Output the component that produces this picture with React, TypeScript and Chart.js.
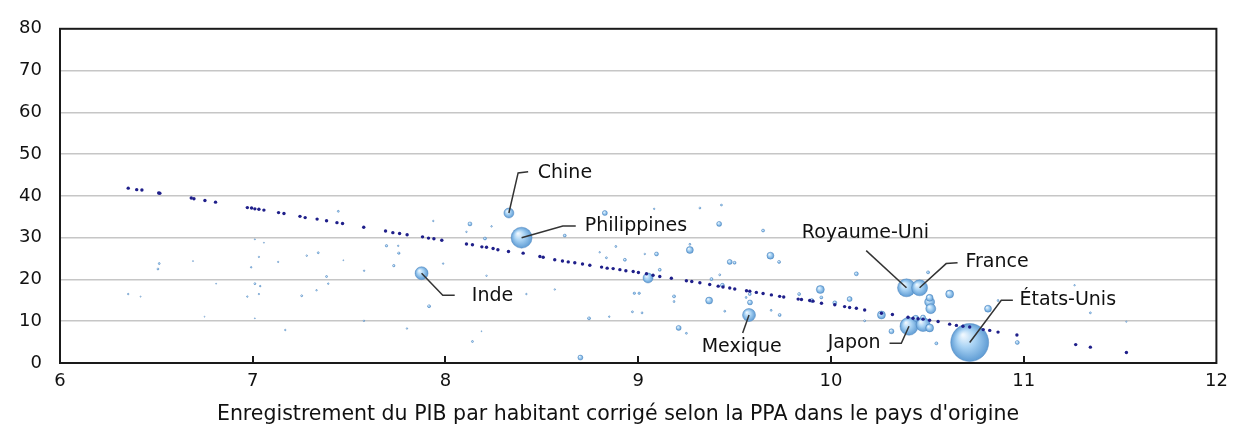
import React, { useEffect, useRef } from 'react';
import { Chart, registerables } from 'chart.js';

Chart.register(...registerables);

// Fitted values (dark dotted line)
const fitX = [
  6.354, 6.398, 6.425, 6.512, 6.518, 6.681, 6.695, 6.752, 6.807, 6.972, 6.994, 7.011, 7.032, 7.058,
  7.134, 7.162, 7.245, 7.272, 7.334, 7.383, 7.437, 7.466, 7.576, 7.689, 7.727, 7.762, 7.801, 7.881,
  7.912, 7.94, 7.981, 8.109, 8.14, 8.189, 8.213, 8.247, 8.272, 8.327, 8.403, 8.49, 8.507, 8.567,
  8.607, 8.637, 8.671, 8.711, 8.749, 8.81, 8.839, 8.87, 8.905, 8.936, 8.974, 9.001, 9.043, 9.077,
  9.112, 9.172, 9.25, 9.278, 9.32, 9.371, 9.415, 9.44, 9.475, 9.501, 9.562, 9.579, 9.613, 9.648,
  9.691, 9.734, 9.755, 9.83, 9.847, 9.89, 9.907, 9.951, 10.02, 10.071, 10.097, 10.132, 10.175,
  10.262, 10.319, 10.4, 10.426, 10.452, 10.478, 10.512, 10.556, 10.616, 10.651, 10.685, 10.72,
  10.79, 10.824, 10.867, 10.965, 11.27, 11.346, 11.533,
];
const fitY = [
  41.85, 41.5, 41.4, 40.7, 40.65, 39.5, 39.3, 38.9, 38.5, 37.2, 37.1, 36.9, 36.8, 36.6,
  36.0, 35.8, 35.1, 34.8, 34.45, 34.06, 33.6, 33.4, 32.5, 31.6, 31.2, 31.0, 30.7, 30.2,
  29.9, 29.75, 29.4, 28.5, 28.3, 27.8, 27.7, 27.4, 27.1, 26.7, 26.3, 25.5, 25.3, 24.7,
  24.4, 24.2, 24.0, 23.7, 23.4, 22.96, 22.7, 22.6, 22.35, 22.1, 21.9, 21.65, 21.35, 21.0,
  20.7, 20.3, 19.7, 19.5, 19.2, 18.8, 18.4, 18.2, 17.95, 17.7, 17.3, 17.2, 16.9, 16.65,
  16.3, 15.95, 15.8, 15.3, 15.2, 14.95, 14.8, 14.3, 13.95, 13.5, 13.3, 13.1, 12.7,
  11.9, 11.6, 10.95, 10.7, 10.6, 10.5, 10.25, 9.95, 9.3, 9.0, 8.8, 8.6,
  8.0, 7.8, 7.4, 6.7, 4.4, 3.8, 2.5,
];

// Countries (bubbles)
const bubX = [
  8.329, 8.395, 7.876, 9.575, 10.392, 10.46, 10.405, 10.478, 10.72,
  10.512, 10.518, 10.512, 10.512, 10.44, 10.478, 10.616, 10.262, 9.945, 9.686, 9.731, 9.648,
  10.132, 10.097, 10.02, 9.95, 9.9, 9.835, 9.58, 9.734, 9.69, 10.314, 10.547, 10.504, 10.175,
  10.815, 10.867, 10.967, 11.264, 11.346, 11.533,
  8.827, 8.619, 9.42, 9.432, 9.32, 9.083, 9.268, 9.268, 9.095, 8.884, 8.931, 9.475, 9.5, 8.835,
  9.051, 9.112, 8.98, 9.005, 9.186, 9.186, 9.368, 9.38, 9.437, 9.449, 9.579, 9.56, 9.21, 9.25,
  8.97, 9.02, 8.745, 8.85, 8.7, 8.567, 8.8, 9.034, 8.42, 9.423,
  7.444, 8.127, 8.109, 7.937, 8.239, 8.205, 7.34, 7.28, 7.694, 7.755, 7.758, 7.732, 7.578, 7.47,
  7.383, 7.392, 7.331, 7.254, 7.988, 7.915, 7.577, 7.8, 8.14, 8.213, 8.187,
  6.515, 6.508, 6.354, 6.418, 6.69, 6.75, 6.81, 7.011, 7.058, 7.032, 6.992, 7.132, 7.011, 7.039,
  7.032, 6.972, 7.011, 7.169,
];
const bubY = [
  35.9, 30.0, 21.5, 11.5, 18.0, 18.0, 8.8, 9.2, 4.9,
  14.6, 13.0, 15.6, 8.4, 10.7, 10.9, 16.5, 11.5, 17.6, 25.7, 24.2, 31.7,
  21.35, 15.3, 14.4, 15.7, 14.95, 16.5, 14.5, 11.5, 12.6, 7.6, 4.7, 21.7, 10.1,
  13.0, 14.95, 4.9, 18.6, 12.0, 9.9,
  35.9, 30.5, 33.3, 37.8, 37.1, 36.9, 27.05, 28.4, 26.1, 27.9, 24.7, 24.2, 24.0, 25.2,
  20.35, 22.3, 16.7, 16.7, 15.95, 14.7, 14.95, 20.1, 18.6, 12.4, 16.5, 15.7, 8.4, 7.1,
  12.25, 12.0, 10.7, 11.1, 1.3, 17.6, 26.5, 26.1, 16.5, 21.1,
  36.3, 33.3, 31.4, 34.0, 32.7, 29.8, 26.4, 25.7, 28.05, 28.05, 26.3, 23.3, 22.1, 24.6,
  20.7, 19.0, 17.4, 16.1, 23.8, 13.6, 10.1, 8.25, 5.15, 20.9, 7.6,
  23.8, 22.5, 16.5, 15.9, 24.4, 11.1, 19.0, 29.6, 28.8, 25.4, 22.9, 24.2, 19.0, 18.4,
  16.5, 15.9, 10.7, 7.9,
];
const bubSize = [
  5, 10.5, 6.5, 6.5, 9, 8, 9, 7, 19,
  5, 5, 3.5, 4, 3, 2.5, 4, 4, 4, 3.5, 1.5, 1.5,
  2, 2.5, 2, 1.5, 2, 1.5, 2.5, 1.5, 1, 2.5, 1.5, 1.5, 1,
  3.5, 1, 2, 0.8, 1, 0.7,
  2.5, 1.5, 2.5, 1, 1, 0.8, 3.5, 1, 2, 1, 1.5, 2.5, 1.5, 1,
  5, 1.5, 1.2, 1.2, 1.5, 1, 3.5, 1.5, 2, 1, 1.5, 1, 2.5, 1,
  1, 1, 1.5, 0.8, 2.5, 0.8, 0.8, 0.8, 0.8, 1,
  1, 2, 0.8, 0.8, 0.8, 1.5, 1, 0.8, 1.2, 0.8, 1.2, 1.2, 0.8, 0.5,
  1, 0.8, 0.8, 1, 0.8, 1.5, 0.8, 0.8, 1, 0.8, 0.5,
  1, 1, 0.8, 0.6, 0.5, 0.5, 0.5, 0.6, 0.5, 0.7, 0.8, 0.7, 1, 0.8,
  0.7, 0.8, 0.5, 0.8,
];

const xTicks = [6, 7, 8, 9, 10, 11, 12];
const yTicks = [0, 10, 20, 30, 40, 50, 60, 70, 80];
const xTitle = "Enregistrement du PIB par habitant corrigé selon la PPA dans le pays d'origine";

// Callout labels (anchor, leader path and text position in data units)
const callouts = [
  { text: 'Chine', anchor: [8.329, 35.9], path: [[8.377, 45.5], [8.429, 45.8]], at: [8.479, 45.4], align: 'left' },
  { text: 'Philippines', anchor: [8.395, 30.0], path: [[8.609, 32.8], [8.676, 32.8]], at: [8.723, 32.8], align: 'left' },
  { text: 'Inde', anchor: [7.876, 21.5], path: [[7.986, 16.2], [8.048, 16.2]], at: [8.137, 16.1], align: 'left' },
  { text: 'Mexique', anchor: [9.575, 11.5], path: [[9.542, 7.2]], at: [9.537, 3.9], align: 'center' },
  { text: 'Royaume-Uni', anchor: [10.392, 18.0], path: [[10.183, 26.9]], at: [10.179, 31.0], align: 'center' },
  { text: 'France', anchor: [10.46, 18.0], path: [[10.598, 23.8], [10.657, 24.0]], at: [10.698, 24.1], align: 'left' },
  { text: 'Japon', anchor: [10.405, 8.8], path: [[10.365, 4.7], [10.304, 4.7]], at: [10.258, 4.7], align: 'right' },
  { text: 'États-Unis', anchor: [10.72, 4.9], path: [[10.884, 15.0], [10.944, 15.0]], at: [10.979, 15.0], align: 'left' },
];

const FONT = '"DejaVu Sans", Verdana, sans-serif';
const TICK_SIZE = 18;
const LABEL_SIZE = 19;
const TITLE_SIZE = 20.5;

const framePlugin = {
  id: 'frameAndCallouts',
  afterDatasetsDraw(chart: any) {
    const { ctx, chartArea, scales } = chart;
    const xs = scales.x;
    const ys = scales.y;
    ctx.save();
    ctx.strokeStyle = '#1a1a1a';
    ctx.lineWidth = 2;
    ctx.strokeRect(chartArea.left, chartArea.top, chartArea.right - chartArea.left, chartArea.bottom - chartArea.top);
    ctx.beginPath();
    for (const t of xTicks.slice(1, -1)) {
      const px = Math.round(xs.getPixelForValue(t));
      ctx.moveTo(px, chartArea.bottom);
      ctx.lineTo(px, chartArea.bottom - 7);
    }
    ctx.stroke();

    ctx.strokeStyle = '#333';
    ctx.lineWidth = 1.5;
    ctx.fillStyle = '#111';
    ctx.font = `${LABEL_SIZE}px ${FONT}`;
    ctx.textBaseline = 'middle';
    for (const c of callouts) {
      ctx.beginPath();
      ctx.moveTo(xs.getPixelForValue(c.anchor[0]), ys.getPixelForValue(c.anchor[1]));
      for (const p of c.path) ctx.lineTo(xs.getPixelForValue(p[0]), ys.getPixelForValue(p[1]));
      ctx.stroke();
      ctx.textAlign = c.align as CanvasTextAlign;
      ctx.fillText(c.text, xs.getPixelForValue(c.at[0]), ys.getPixelForValue(c.at[1]));
    }

    // Axis title, centred on the whole figure
    ctx.font = `${TITLE_SIZE}px ${FONT}`;
    ctx.textAlign = 'center';
    ctx.fillText(xTitle, chart.width / 2, chart.height - 10);
    ctx.restore();
  },
};

function bubbleFill(c: any) {
  const chart = c.chart;
  const raw = c.raw;
  if (!raw || !chart.chartArea || !chart.scales.x) return '#9ccaef';
  const px = chart.scales.x.getPixelForValue(raw.x);
  const py = chart.scales.y.getPixelForValue(raw.y);
  const r = Math.max(raw.r, 0.5);
  const g = chart.ctx.createRadialGradient(px - r * 0.35, py - r * 0.4, r * 0.05, px, py, r);
  g.addColorStop(0, '#eef7fe');
  g.addColorStop(0.45, '#a9d3f4');
  g.addColorStop(1, '#5f9cd4');
  return g;
}

export default function App() {
  const ref = useRef<HTMLCanvasElement>(null);
  useEffect(() => {
    if (!ref.current) return;
    const fitData = fitX.map((x, i) => ({ x, y: fitY[i] }));
    const bubData = bubX.map((x, i) => ({ x, y: bubY[i], r: bubSize[i] }));
    const chart = new Chart(ref.current, {
      type: 'bubble',
      data: {
        datasets: [
          {
            type: 'scatter',
            label: 'Ajusté',
            data: fitData,
            pointRadius: 1.7,
            pointBackgroundColor: '#1f1f8a',
            pointBorderWidth: 0,
            showLine: false,
          } as any,
          {
            type: 'bubble',
            label: 'Pays',
            data: bubData,
            backgroundColor: bubbleFill,
            borderColor: 'rgba(72,128,186,0.7)',
            borderWidth: 0.6,
          } as any,
        ],
      },
      options: {
        responsive: false,
        devicePixelRatio: 1,
        animation: false,
        events: [],
        layout: { padding: { top: 17, right: 19, left: 0, bottom: 0 } },
        plugins: { legend: { display: false }, tooltip: { enabled: false } },
        scales: {
          x: {
            type: 'linear',
            min: 6,
            max: 12,
            afterBuildTicks: (s: any) => { s.ticks = xTicks.map((v) => ({ value: v })); },
            afterFit: (s: any) => { s.height = 62; },
            grid: { display: false, drawTicks: false },
            border: { display: false },
            ticks: { padding: 8, color: '#111', font: { family: FONT, size: TICK_SIZE } },
            title: { display: false },
          },
          y: {
            type: 'linear',
            min: 0,
            max: 80,
            afterBuildTicks: (s: any) => { s.ticks = yTicks.map((v) => ({ value: v })); },
            afterFit: (s: any) => { s.width = 60; },
            grid: {
              drawTicks: false,
              lineWidth: 1.6,
              color: (c: any) => (c.tick && (c.tick.value === 0 || c.tick.value === 80) ? 'rgba(0,0,0,0)' : '#c6c6c6'),
            },
            border: { display: false },
            ticks: { padding: 18, color: '#111', font: { family: FONT, size: TICK_SIZE } },
          },
        },
      },
      plugins: [framePlugin],
    });
    return () => chart.destroy();
  }, []);
  return (
    <div style={{ position: 'absolute', left: 0, top: 0, width: 1236, height: 425, background: '#fff' }}>
      <canvas ref={ref} width={1236} height={425} style={{ display: 'block' }} />
    </div>
  );
}
